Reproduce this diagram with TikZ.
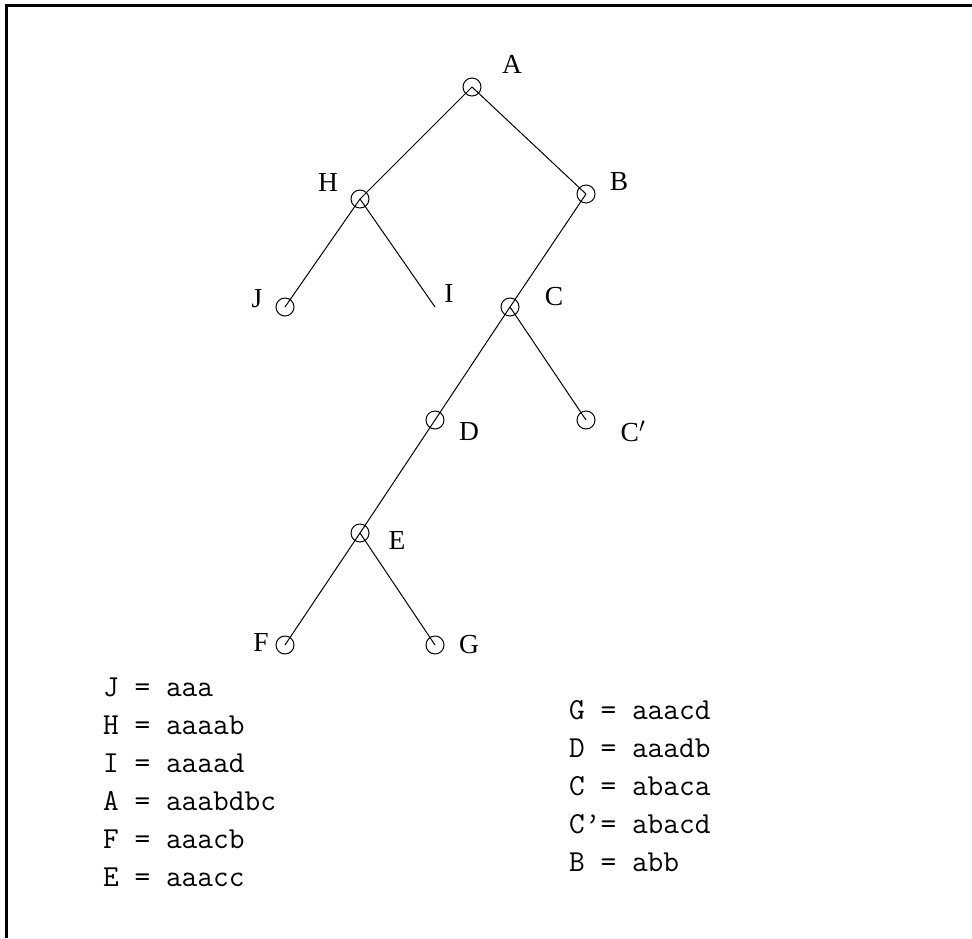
\documentclass[tikz,border=0pt]{standalone}
\usepackage{fontspec}
\setmainfont{Liberation Serif}
\usepackage{tikz}
\usepackage{amsmath}

\tikzset{
  vertex/.style={draw=black,circle,minimum size=18pt,inner sep=0pt,line width=1pt},
  vlabel/.style={inner sep=0pt,font=\fontsize{27.5}{33}\selectfont},
  codes/.style={anchor=north west,inner sep=0pt,align=left,
    font=\fontsize{30.5}{38}\selectfont\ttfamily}
}

\begin{document}
\begin{tikzpicture}[x=1pt,y=-1pt]
\useasboundingbox (0,0) rectangle (972,938);
% frame:
\path[draw=black,line width=3pt] (6.5,938) -- (6.5,5.5) -- (972,5.5);
% vertices:
\node[vertex] (A) at (472,87) {};
\node[vertex] (H) at (360,199) {};
\node[vertex] (B) at (586,194) {};
\node[vertex] (J) at (285,307) {};
\coordinate (I) at (435,307);
\node[vertex] (C) at (510,307) {};
\node[vertex] (D) at (435,420) {};
\node[vertex] (Cp) at (586,420) {};
\node[vertex] (E) at (360,533) {};
\node[vertex] (F) at (285,645) {};
\node[vertex] (G) at (435,645) {};
% edges:
\draw[black,line width=1pt] (A.center) -- (H.center);
\draw[black,line width=1pt] (A.center) -- (B.center);
\draw[black,line width=1pt] (H.center) -- (J.center);
\draw[black,line width=1pt] (H.center) -- (I);
\draw[black,line width=1pt] (B.center) -- (C.center);
\draw[black,line width=1pt] (C.center) -- (D.center);
\draw[black,line width=1pt] (C.center) -- (Cp.center);
\draw[black,line width=1pt] (D.center) -- (E.center);
\draw[black,line width=1pt] (E.center) -- (F.center);
\draw[black,line width=1pt] (E.center) -- (G.center);
% labels:
\node[vlabel] (labA) at (512,64) {A};
\node[vlabel] (labH) at (328,182) {H};
\node[vlabel] (labB) at (619,182) {B};
\node[vlabel] (labJ) at (257,299) {J};
\node[vlabel] (labI) at (449,293) {I};
\node[vlabel] (labC) at (554,297) {C};
\node[vlabel] (labD) at (469,432) {D};
\node[vlabel] (labCp) at (633,431) {C$'$};
\node[vlabel] (labE) at (397,540) {E};
\node[vlabel] (labF) at (261,642) {F};
\node[vlabel] (labG) at (469,645) {G};
% strings:
\node[codes] (left) at (103,678) {J = aaa\\H = aaaab\\I = aaaad\\A = aaabdbc\\F = aaacb\\E = aaacc};
\node[codes] (right) at (569,700) {G = aaacd\\D = aaadb\\C = abaca\\C\textquoteright= abacd\\B = abb};
\end{tikzpicture}
\end{document}
